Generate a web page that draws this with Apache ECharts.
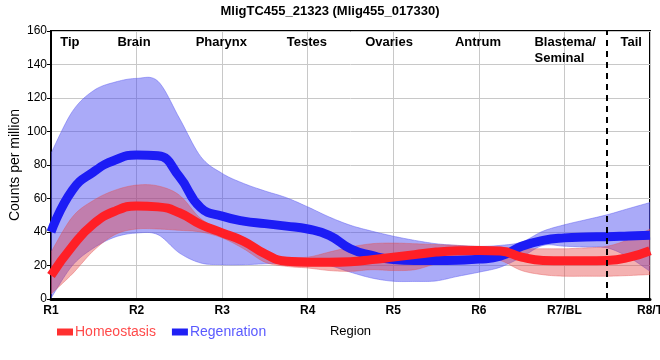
<!DOCTYPE html>
<html><head><meta charset="utf-8">
<script src="https://cdn.jsdelivr.net/npm/echarts@6/dist/echarts.min.js"></script>
<style>html,body{margin:0;padding:0;background:#fff}#c{width:660px;height:360px}</style>
</head><body><div id="c"></div>
<script>
// Region positions (0 = R1 ... 7 = R8/T), sampled every quarter region
const xs = [0,0.25,0.5,0.75,1,1.25,1.5,1.75,2,2.25,2.5,2.75,3,3.25,3.5,3.75,4,4.25,4.5,4.75,5,5.25,5.5,5.75,6,6.25,6.5,6.75,7];
const tickLabels = ['R1','R2','R3','R4','R5','R6','R7/BL','R8/T'];
const regionNames = ['Tip','Brain','Pharynx','Testes','Ovaries','Antrum','Blastema/\nSeminal','Tail'];
const regionNamePos = [0.22,0.97,1.99,2.99,3.95,4.99,5.65,6.78];
const tailBoundary = 6.5;

const homeoMean  = [14,31.5,45,52.5,55.5,55,51.5,44.5,39.5,34.5,27,22.5,22,22,22.3,23.5,25,26.5,28,28.8,29,28.7,25,23,22.8,22.8,23,24.8,28.8];
const homeoUpper = [28,49,59,65,68,67.5,62,48,41,34,27,25,25,28,31,33,33.4,33,32.5,32,31.4,31,30,30,30,30.5,31.5,35.5,41.8];
const homeoLower = [3,15,29,38.5,41.8,41.8,41,40,36.5,30,22,19.5,18.5,17,16.5,17.5,17,17.5,21,23.5,24.5,23,17,14.5,13.6,13.6,13.6,14,14.6];

const regenMean  = [40,65,76,83,86,85.5,73,54.5,49.5,46.5,45,43.5,41.8,38,30,26,23.5,23,23,23.2,23.8,25.5,31.5,35,36.5,37,37.2,37.6,38];
const regenUpper = [87,112,124.5,129.5,131.7,130,108,85,75,69,64.5,60.5,55,49,44,40.5,37.5,35,33,32,31.4,32,34,40.5,44.3,47.3,50.3,54,57.6];
const regenLower = [0.5,20,30.5,37,39.4,38.4,27.5,21.5,20.5,20.5,21,21.5,22,20,16,12.5,10.6,10.5,10.8,13.5,16,19,25,32,31.5,31,30.5,25,16.5];

const pairs = (ys) => xs.map((x, i) => [x, ys[i]]);

const sans = "'Liberation Sans',Arial,sans-serif";
const chart = echarts.init(document.getElementById('c'), null, {renderer: 'canvas'});

// Catmull-Rom densification of pixel points
function spline(pts) {
  const out = [];
  for (let i = 0; i < pts.length - 1; i++) {
    const p0 = pts[Math.max(0, i - 1)], p1 = pts[i], p2 = pts[i + 1], p3 = pts[Math.min(pts.length - 1, i + 2)];
    for (let k = 0; k < 10; k++) {
      const t = k / 10, t2 = t * t, t3 = t2 * t;
      const f = (a, b, c, d) => 0.5 * ((2 * b) + (-a + c) * t + (2 * a - 5 * b + 4 * c - d) * t2 + (-a + 3 * b - 3 * c + d) * t3);
      out.push([f(p0[0], p1[0], p2[0], p3[0]), f(p0[1], p1[1], p2[1], p3[1])]);
    }
  }
  out.push(pts[pts.length - 1]);
  return out;
}

function band(name, lo, hi, fill, edge) {
  return {
    name: name, type: 'custom', coordinateSystem: 'cartesian2d', clip: true, silent: true,
    data: [[xs[0], lo[0]]],
    renderItem: function (params, api) {
      const up = spline(xs.map((x, i) => api.coord([x, hi[i]])));
      const dn = spline(xs.map((x, i) => api.coord([x, lo[i]]))).reverse();
      return {type: 'polygon', shape: {points: up.concat(dn)},
              style: {fill: fill, stroke: edge, lineWidth: 0.8}};
    }
  };
}

chart.setOption({
  animation: false,
  title: {text: 'MligTC455_21323 (Mlig455_017330)', left: 'center', top: 0,
          textStyle: {fontFamily: sans, fontWeight: 'bold', fontSize: 13, color: '#000'}},
  grid: {left: 51, right: 10, top: 31, bottom: 61, outerBoundsMode: 'none', containLabel: false,
         show: true, borderColor: '#000', borderWidth: 2, backgroundColor: 'transparent'},
  legend: {left: 52, top: 320, itemWidth: 16, itemHeight: 7, itemGap: 16, icon: 'rect',
           data: [{name: 'Homeostasis', textStyle: {color: '#ff4a4a'}}, {name: 'Regenration', textStyle: {color: '#5a5aff'}}],
           textStyle: {fontFamily: sans, fontSize: 14, padding: [0, 0, 0, -3]}},
  xAxis: {type: 'value', min: 0, max: 7, interval: 1, name: 'Region', nameLocation: 'middle', nameGap: 26,
          nameMoveOverlap: false,
          nameTextStyle: {fontFamily: sans, fontSize: 13, color: '#000'},
          axisLine: {show: true, lineStyle: {color: '#000', width: 3}},
          axisTick: {show: false},
          axisLabel: {formatter: (v) => tickLabels[Math.round(v)] || '', fontFamily: sans, fontWeight: 'bold', fontSize: 12, color: '#000', margin: 6},
          splitLine: {show: true, lineStyle: {color: '#c8c8c8', width: 1}}},
  yAxis: {type: 'value', min: 0, max: 160, interval: 20, name: 'Counts per million', nameLocation: 'middle', nameGap: 29,
          nameMoveOverlap: false,
          nameTextStyle: {fontFamily: sans, fontSize: 14, color: '#000'},
          axisLine: {show: true, lineStyle: {color: '#000', width: 2}},
          axisTick: {show: true, length: 4, lineStyle: {color: '#000'}},
          axisLabel: {fontFamily: sans, fontSize: 12, color: '#000', margin: 4},
          splitLine: {show: true, lineStyle: {color: '#c8c8c8', width: 1}}},
  series: [
    band('regenBand', regenLower, regenUpper, 'rgba(70,70,240,0.46)', 'rgba(90,90,240,0.6)'),
    {name: 'Regenration', type: 'line', data: pairs(regenMean), smooth: 0.5, symbol: 'none',
     color: '#2020f5', lineStyle: {width: 9, color: '#1c1cf5'}},
    band('homeoBand', homeoLower, homeoUpper, 'rgba(228,60,60,0.40)', 'rgba(228,80,80,0.5)'),
    {name: 'Homeostasis', type: 'line', data: pairs(homeoMean), smooth: 0.5, symbol: 'none',
     color: '#ff3030', lineStyle: {width: 9, color: '#ff1f26'},
     markLine: {silent: true, symbol: 'none', label: {show: false},
                lineStyle: {color: '#000', width: 2, type: [6, 5]},
                data: [{xAxis: tailBoundary}]}}
  ]
});

const graphics = regionNames.map((t, i) => {
  const px = chart.convertToPixel({xAxisIndex: 0}, regionNamePos[i]);
  const left = t.indexOf('\n') >= 0;
  return {type: 'text', x: px, y: 34, z: 10,
          style: {text: t, fill: '#000', font: "bold 13px " + sans, textAlign: left ? 'left' : 'center', textVerticalAlign: 'top', lineHeight: 16}};
});
chart.setOption({graphic: graphics});
</script></body></html>
